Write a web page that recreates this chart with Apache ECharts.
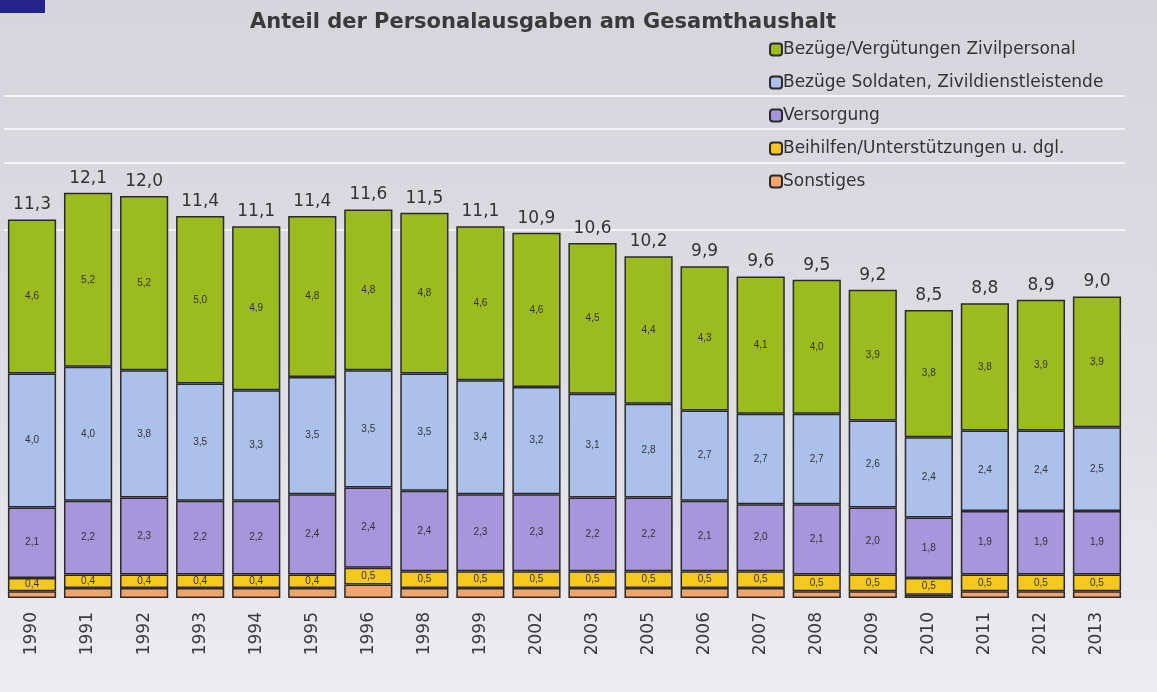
<html>
<head>
<meta charset="utf-8">
<script src="https://cdn.jsdelivr.net/npm/echarts@6/dist/echarts.min.js"></script>
<style>
    * { margin: 0; padding: 0; }
    #main { width: 1157px; height: 692px; }
</style>
</head>
<body>
<div id="main"></div>
<script>
    // Jahre (Kategorien)
    let years = ['1990', '1991', '1992', '1993', '1994', '1995', '1996', '1998', '1999', '2002',
        '2003', '2005', '2006', '2007', '2008', '2009', '2010', '2011', '2012', '2013'];
    // Gesamtwerte über den Säulen
    let totals = [11.3, 12.1, 12.0, 11.4, 11.1, 11.4, 11.6, 11.5, 11.1, 10.9,
        10.6, 10.2, 9.9, 9.6, 9.5, 9.2, 8.5, 8.8, 8.9, 9.0];
    // Reihen, von unten nach oben gestapelt
    let sonstiges = [0.2, 0.3, 0.3, 0.3, 0.3, 0.3, 0.4, 0.3, 0.3, 0.3,
        0.3, 0.3, 0.3, 0.3, 0.2, 0.2, 0.1, 0.2, 0.2, 0.2];
    let beihilfen = [0.4, 0.4, 0.4, 0.4, 0.4, 0.4, 0.5, 0.5, 0.5, 0.5,
        0.5, 0.5, 0.5, 0.5, 0.5, 0.5, 0.5, 0.5, 0.5, 0.5];
    let versorgung = [2.1, 2.2, 2.3, 2.2, 2.2, 2.4, 2.4, 2.4, 2.3, 2.3,
        2.2, 2.2, 2.1, 2.0, 2.1, 2.0, 1.8, 1.9, 1.9, 1.9];
    let soldaten = [4.0, 4.0, 3.8, 3.5, 3.3, 3.5, 3.5, 3.5, 3.4, 3.2,
        3.1, 2.8, 2.7, 2.7, 2.7, 2.6, 2.4, 2.4, 2.4, 2.5];
    let zivil = [4.6, 5.2, 5.2, 5.0, 4.9, 4.8, 4.8, 4.8, 4.6, 4.6,
        4.5, 4.4, 4.3, 4.1, 4.0, 3.9, 3.8, 3.8, 3.9, 3.9];
    // Hilfslinien im Hintergrund (nur diese Werte sichtbar)
    let gridLevels = [11, 13, 14, 15];

    let seriesNames = ['Bezüge/Vergütungen Zivilpersonal', 'Bezüge Soldaten, Zivildienstleistende',
        'Versorgung', 'Beihilfen/Unterstützungen u. dgl.', 'Sonstiges'];

    const FONT = 'Liberation Sans';
    const WIDE = 'DejaVu Sans';

    function komma(v) {
        return Number(v).toFixed(1).replace('.', ',');
    }

    // Farben der Gitterlinien 0..16, nur die gewünschten weiß
    let splitColors = [];
    for (let i = 0; i <= 16; i++) {
        splitColors.push(gridLevels.indexOf(i) >= 0 ? '#f4f4f6' : 'rgba(0,0,0,0)');
    }

    function segment(name, data, color, showLabel) {
        return {
            name: name,
            type: 'bar',
            stack: 'gesamt',
            barCategoryGap: '14%',
            data: data,
            itemStyle: {color: color, borderColor: '#2a2a2a', borderWidth: 1.5},
            label: {
                show: showLabel,
                position: 'inside',
                fontFamily: FONT,
                fontSize: 10,
                color: '#333',
                formatter: function (p) { return komma(p.value); }
            }
        };
    }

    let myChart = echarts.init(document.getElementById('main'));

    let option = {
        backgroundColor: {
            type: 'linear', x: 0, y: 0, x2: 0, y2: 1,
            colorStops: [{offset: 0, color: '#d5d5db'}, {offset: 0.6, color: '#dedee4'}, {offset: 1, color: '#ececf0'}]
        },
        animation: false,
        title: {
            text: 'Anteil der Personalausgaben am Gesamthaushalt',
            left: 538,
            textAlign: 'center',
            top: 7,
            textStyle: {fontFamily: WIDE, fontSize: 21, fontWeight: 'bold', color: '#3a3a3a'}
        },
        legend: {
            orient: 'vertical',
            left: 764,
            top: 36,
            itemWidth: 12,
            itemHeight: 12,
            itemGap: 16,
            data: seriesNames,
            textStyle: {fontFamily: WIDE, fontSize: 17, color: '#333', padding: [0, 0, 0, -4]}
        },
        graphic: [{
            type: 'rect',
            shape: {x: 0, y: 0, width: 45, height: 13},
            style: {fill: '#23238a'}
        }],
        grid: {left: 4, right: 32, top: 62, bottom: 94},
        xAxis: {
            type: 'category',
            data: years,
            axisLine: {show: false},
            axisTick: {show: false},
            axisLabel: {rotate: 90, margin: 14, fontFamily: WIDE, fontSize: 17, color: '#3a3a3a'}
        },
        yAxis: {
            type: 'value',
            min: 0,
            max: 16,
            interval: 1,
            axisLabel: {show: false},
            axisLine: {show: false},
            axisTick: {show: false},
            splitLine: {show: true, lineStyle: {color: splitColors, width: 2}}
        },
        series: [
            segment(seriesNames[4], sonstiges, '#f2a46e', false),
            segment(seriesNames[3], beihilfen, '#f4c81c', true),
            segment(seriesNames[2], versorgung, '#a697dc', true),
            segment(seriesNames[1], soldaten, '#abc1ec', true),
            segment(seriesNames[0], zivil, '#9cbb1e', true),
            {
                name: 'Gesamt',
                type: 'bar',
                stack: 'gesamt',
                data: totals.map(function () { return 0; }),
                itemStyle: {color: 'transparent'},
                label: {
                    show: true,
                    position: 'top',
                    distance: 6,
                    fontFamily: WIDE,
                    fontSize: 17,
                    color: '#333',
                    formatter: function (p) { return komma(totals[p.dataIndex]); }
                }
            }
        ]
    };

    myChart.setOption(option);
</script>
</body>
</html>
